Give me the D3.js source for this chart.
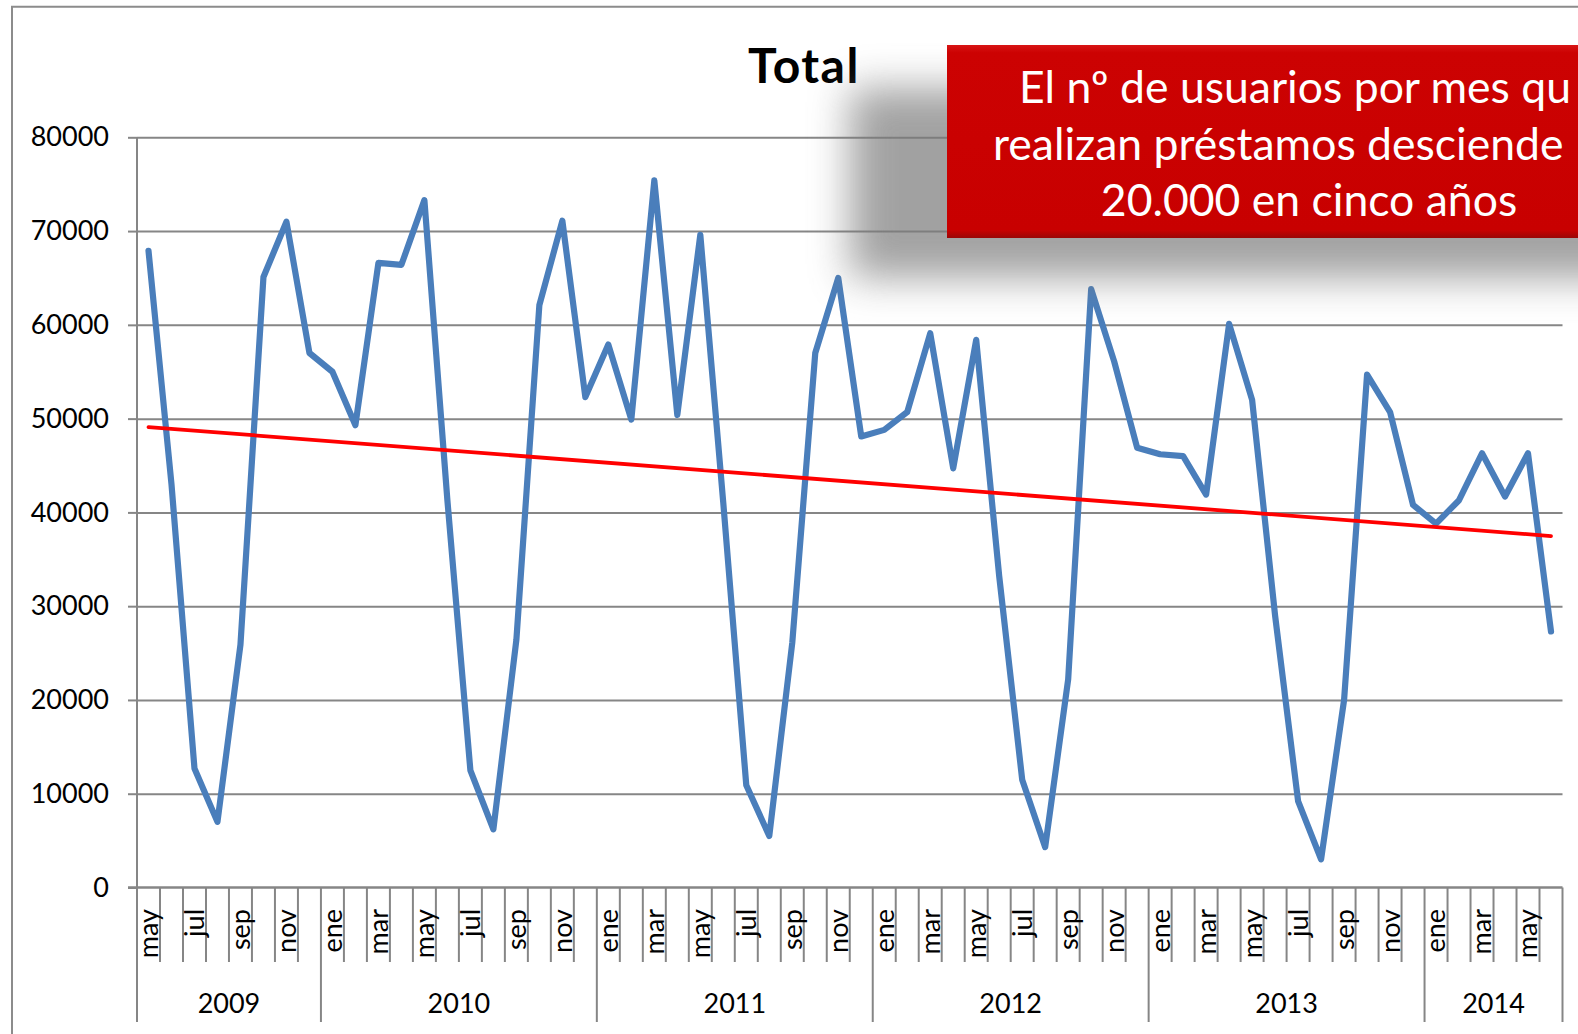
<!DOCTYPE html>
<html>
<head>
<meta charset="utf-8">
<script src="https://cdn.jsdelivr.net/npm/d3@7"></script>
<style>
  body { margin: 0; background: #fff; }
  svg { display: block; font-family: Lato, "Open Sans", sans-serif; }
</style>
</head>
<body>
<div class="container"></div>
<script>
const WIDTH = 1578;
const HEIGHT = 1034;

// data: monthly users, may 2009 - jun 2014
const years = ["2009", "2010", "2011", "2012", "2013", "2014"];
const monthsPerYear = [8, 12, 12, 12, 12, 6];
const monthLabels = [
  "may", "jun", "jul", "ago", "sep", "oct", "nov", "dic",
  "ene", "feb", "mar", "abr", "may", "jun", "jul", "ago", "sep", "oct", "nov", "dic",
  "ene", "feb", "mar", "abr", "may", "jun", "jul", "ago", "sep", "oct", "nov", "dic",
  "ene", "feb", "mar", "abr", "may", "jun", "jul", "ago", "sep", "oct", "nov", "dic",
  "ene", "feb", "mar", "abr", "may", "jun", "jul", "ago", "sep", "oct", "nov", "dic",
  "ene", "feb", "mar", "abr", "may", "jun"
];
const usuarios = [
  67900, 43000, 12700, 7000, 25900, 65100, 71000, 57000,
  55000, 49300, 66600, 66400, 73300, 41300, 12500, 6200, 26400, 62100, 71100, 52300,
  57900, 49900, 75400, 50400, 69600, 41000, 10900, 5500, 26100, 57000, 65000, 48100,
  48800, 50700, 59100, 44700, 58400, 33200, 11500, 4300, 22200, 63800, 56100, 46900,
  46200, 46000, 41900, 60100, 52000, 29000, 9200, 3000, 20000, 54700, 50700, 40800,
  38800, 41300, 46300, 41700, 46300, 27300
];
const yTicks = [0, 10000, 20000, 30000, 40000, 50000, 60000, 70000, 80000];
const titleText = "Total";
// the callout runs past the right edge of the picture; only the visible part is kept
const noteLines = [
  "El nº de usuarios por mes qu",
  "realizan préstamos desciende",
  "20.000 en cinco años"
];

const plot = { left: 137, right: 1562.5, top: 137.3, bottom: 887.5 };
const GRAY = "#868686";

var svg = d3.select(".container").append("svg")
  .attr("width", WIDTH)
  .attr("height", HEIGHT);

var x = d3.scaleBand()
  .domain(d3.range(usuarios.length))
  .range([plot.left, plot.right])
  .padding(0);
var bw = x.bandwidth();
var cx = function(i) { return x(i) + bw / 2; };

var y = d3.scaleLinear()
  .domain([0, 80000])
  .range([plot.bottom, plot.top]);

// outer chart frame
svg.append("path")
  .attr("d", "M12," + HEIGHT + " V6.7 H" + WIDTH)
  .attr("fill", "none")
  .attr("stroke", "#8c8c8c")
  .attr("stroke-width", 2);

// title
svg.append("text")
  .attr("x", 804)
  .attr("y", 83)
  .attr("text-anchor", "middle")
  .attr("font-size", 48)
  .attr("font-weight", "bold")
  .attr("letter-spacing", 1.5)
  .text(titleText);

// gridlines
var grid = svg.append("g")
  .attr("transform", "translate(" + plot.left + ",0)")
  .call(d3.axisLeft(y).tickValues(yTicks.slice(1)).tickSize(-(plot.right - plot.left)).tickFormat(""));
grid.select(".domain").remove();
grid.selectAll("line").attr("stroke", GRAY).attr("stroke-width", 2);

// y axis
var yAxis = svg.append("g")
  .attr("transform", "translate(" + plot.left + ",0)")
  .call(d3.axisLeft(y).tickValues(yTicks).tickSize(9).tickPadding(19).tickFormat(d3.format("d")));
yAxis.select(".domain").remove();
yAxis.selectAll("line").attr("stroke", GRAY).attr("stroke-width", 2);
yAxis.selectAll("text")
  .attr("font-family", "Lato, sans-serif")
  .attr("font-size", 27)
  .attr("fill", "#000");

svg.append("line")
  .attr("x1", plot.left).attr("x2", plot.left)
  .attr("y1", plot.top).attr("y2", plot.bottom)
  .attr("stroke", GRAY).attr("stroke-width", 2);

// category axis: month separators, labels, year groups
var boundaries = d3.range(usuarios.length + 1);
var yearStarts = [0];
monthsPerYear.forEach(function(n, k) { yearStarts.push(yearStarts[k] + n); });
var bx = function(k) { return plot.left + k * bw; };

svg.append("g").selectAll("line")
  .data(boundaries)
  .join("line")
  .attr("x1", bx).attr("x2", bx)
  .attr("y1", plot.bottom)
  .attr("y2", function(k) { return yearStarts.indexOf(k) >= 0 ? 1022 : 962; })
  .attr("stroke", GRAY)
  .attr("stroke-width", 2);

svg.append("line")
  .attr("x1", plot.left - 9).attr("x2", plot.right)
  .attr("y1", plot.bottom).attr("y2", plot.bottom)
  .attr("stroke", GRAY).attr("stroke-width", 2.7);

svg.append("g").selectAll("text")
  .data(monthLabels.map(function(m, i) { return { m: m, i: i }; }).filter(function(d) { return d.i % 2 === 0; }))
  .join("text")
  .attr("transform", function(d) { return "translate(" + cx(d.i) + ",909) rotate(-90)"; })
  .attr("text-anchor", "end")
  .attr("dy", "0.35em")
  .attr("font-size", 27)
  .text(function(d) { return d.m; });

svg.append("g").selectAll("text")
  .data(years)
  .join("text")
  .attr("x", function(d, k) { return (bx(yearStarts[k]) + bx(yearStarts[k + 1])) / 2; })
  .attr("y", 1013)
  .attr("text-anchor", "middle")
  .attr("font-size", 27)
  .text(function(d) { return d; });

// series line
var line = d3.line()
  .x(function(d, i) { return cx(i); })
  .y(function(d) { return y(d); });

svg.append("path")
  .datum(usuarios)
  .attr("d", line)
  .attr("fill", "none")
  .attr("stroke", "#4a7ebb")
  .attr("stroke-width", 6.2)
  .attr("stroke-linejoin", "round")
  .attr("stroke-linecap", "round");

// linear trend (least squares)
var n = usuarios.length;
var mx = d3.mean(d3.range(n));
var my = d3.mean(usuarios);
var sxy = d3.sum(usuarios, function(v, i) { return (i - mx) * (v - my); });
var sxx = d3.sum(d3.range(n), function(i) { return (i - mx) * (i - mx); });
var slope = sxy / sxx;
var trend = [0, n - 1].map(function(i) { return { i: i, v: my + slope * (i - mx) }; });

svg.append("line")
  .attr("x1", cx(trend[0].i)).attr("y1", y(trend[0].v))
  .attr("x2", cx(trend[1].i)).attr("y2", y(trend[1].v))
  .attr("stroke", "#ff0000")
  .attr("stroke-width", 3.8)
  .attr("stroke-linecap", "round");

// callout box with soft shadow
var defs = svg.append("defs");
defs.append("filter")
  .attr("id", "blur")
  .attr("x", "-50%").attr("y", "-50%")
  .attr("width", "200%").attr("height", "200%")
  .append("feGaussianBlur")
  .attr("stdDeviation", 20);

var grad = defs.append("linearGradient")
  .attr("id", "boxFill")
  .attr("x1", 0).attr("y1", 0).attr("x2", 0).attr("y2", 1);
grad.append("stop").attr("offset", "0%").attr("stop-color", "#d81414");
grad.append("stop").attr("offset", "4%").attr("stop-color", "#cc0202");
grad.append("stop").attr("offset", "96%").attr("stop-color", "#c80000");
grad.append("stop").attr("offset", "100%").attr("stop-color", "#9a0606");

svg.append("rect")
  .attr("x", 850).attr("y", 88)
  .attr("width", 800).attr("height", 190)
  .attr("fill", "#7a7a7a")
  .attr("opacity", 0.7)
  .attr("filter", "url(#blur)");

svg.append("rect")
  .attr("x", 947).attr("y", 45)
  .attr("width", 730).attr("height", 193)
  .attr("fill", "url(#boxFill)");

var noteX = [1019, 993, 1309];
svg.append("g").selectAll("text")
  .data(noteLines)
  .join("text")
  .attr("x", function(d, i) { return noteX[i]; })
  .attr("y", function(d, i) { return 103 + i * 56.5; })
  .attr("text-anchor", function(d, i) { return i < 2 ? "start" : "middle"; })
  .attr("font-size", 44.5)
  .attr("fill", "#fff")
  .text(function(d) { return d; });
</script>
</body>
</html>
